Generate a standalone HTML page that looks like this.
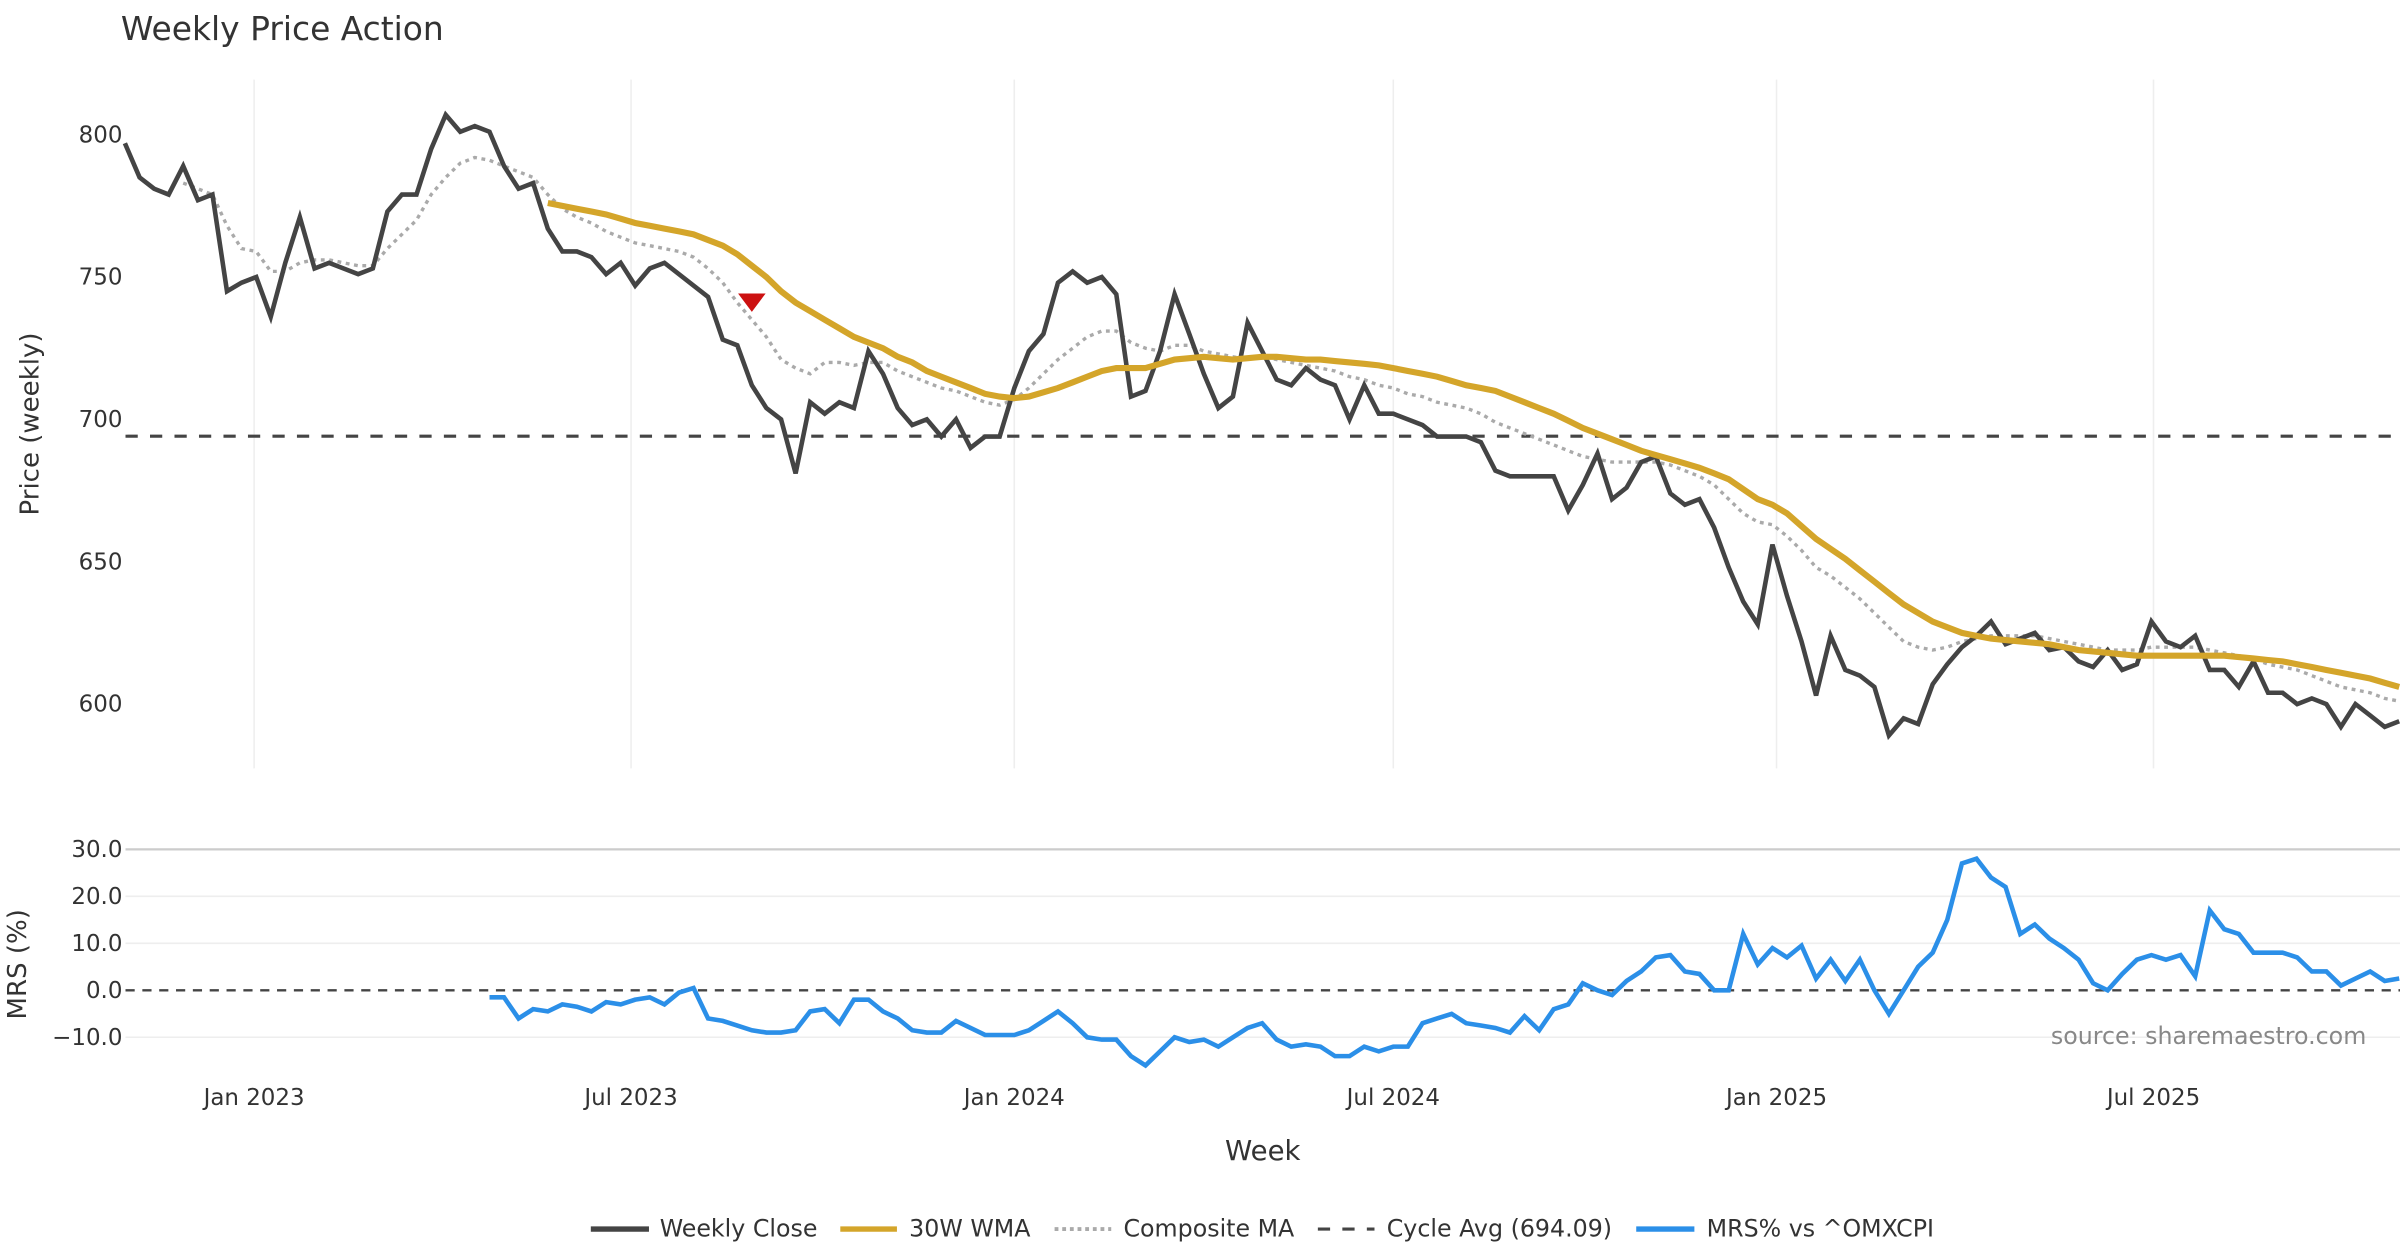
<!DOCTYPE html>
<html><head><meta charset="utf-8"><style>
html,body{margin:0;padding:0;background:#fff;}
svg{display:block;font-family:"DejaVu Sans","Liberation Sans",sans-serif;}
</style></head><body>
<svg id="chart" width="2400" height="1260" viewBox="0 0 1568 823.2" preserveAspectRatio="none" xmlns="http://www.w3.org/2000/svg">
<rect width="1568" height="823.2" fill="#fff"/>
<text x="79" y="26" font-size="21.5" fill="#333">Weekly Price Action</text>
<g id="grid"></g>
<g id="series"></g>
<text transform="translate(25,277) rotate(-90)" text-anchor="middle" font-size="17" fill="#333">Price (weekly)</text>
<text transform="translate(17,630) rotate(-90)" text-anchor="middle" font-size="17" fill="#333">MRS (%)</text>
<text x="825" y="758" text-anchor="middle" font-size="18" fill="#333">Week</text>
<text x="1546" y="682" text-anchor="end" font-size="15.5" fill="#888">source: sharemaestro.com</text>
<g font-size="15.5" fill="#333">
 <g><line x1="386" y1="803" x2="424" y2="803" stroke="#444" stroke-width="3.5"/><text x="431" y="808">Weekly Close</text></g>
 <g><line x1="549" y1="803" x2="586" y2="803" stroke="#D4A52A" stroke-width="3.5"/><text x="594" y="808">30W WMA</text></g>
 <g><line x1="689" y1="803" x2="726" y2="803" stroke="#aaa" stroke-width="2.5" stroke-dasharray="2.5,2.5"/><text x="734" y="808">Composite MA</text></g>
 <g><line x1="861" y1="803" x2="898" y2="803" stroke="#444" stroke-width="2" stroke-dasharray="8,8"/><text x="906" y="808">Cycle Avg (694.09)</text></g>
 <g><line x1="1069" y1="803" x2="1107" y2="803" stroke="#2B8FE8" stroke-width="3.5"/><text x="1115" y="808">MRS% vs ^OMXCPI</text></g>
</g>
</svg>
<script>
const closeVals=[797,785,781,779,789,777,779,745,748,750,736,755,771,753,755,753,751,753,773,779,779,795,807,801,803,801,789,781,783,767,759,759,757,751,755,747,753,755,751,747,743,728,726,712,704,700,681,706,702,706,704,724,716,704,698,700,694,700,690,694,694,711,724,730,748,752,748,750,744,708,710,724,744,730,716,704,708,734,724,714,712,718,714,712,700,712,702,702,700,698,694,694,694,692,682,680,680,680,680,668,677,688,672,676,685,687,674,670,672,662,648,636,628,656,638,622,603,624,612,610,606,589,595,593,607,614,620,624,629,621,623,625,619,620,615,613,619,612,614,629,622,620,624,612,612,606,615,604,604,600,602,600,592,600,596,592,594];
const wmaStart=29;
const wmaVals=[776,775,774,773,772,770.5,769,768,767,766,765,763,761,758,754,750,745,741,738,735,732,729,727,725,722,720,717,715,713,711,709,708,707.5,708,709.5,711,713,715,717,718,718,718,719.5,721,721.5,722,721.5,721,721.5,722,722,721.5,721,721,720.5,720,719.5,719,718,717,716,715,713.5,712,711,710,708,706,704,702,699.5,697,695,693,691,689,687.5,686,684.5,683,681,679,675.5,672,670,667,662.5,658,654.5,651,647,643,639,635,632,629,627,625,624,623,622.5,622,621.5,621,620,619,618.5,618,617.5,617,617,617,617,617,617,617,616.5,616,615.5,615,614,613,612,611,610,609,607.5,606];
const compStart=4;
const compVals=[783,781,779,768,760,759,752,752,755,756,756,755,754,754,760,765,770,779,785,790,792,791,789,787,785,779,774,771,769,766,764,762,761,760,759,757,753,748,741,735,729,721,718,716,720,720,719,720,720,717,715,713,711,710,708,706,705,707,711,716,721,725,729,731,731,727,725,724,726,726,724,723,722,721,722,721,720,719,718,717,715,714,712,711,709,708,706,705,704,702,699,697,695,693,691,689,687,686,685,685,685,685,684,682,680,677,672,667,664,663,659,654,648,645,641,637,632,627,622,620,619,620,622,623,624,624,624,624,623,622,621,620,619,619,619,620,620,620,620,619,618,617,616,614,613,612,610,608,606,605,604,602,601];
const mrsStart=25;
const mrsVals=[-1.5,-1.5,-6,-4,-4.5,-3,-3.5,-4.5,-2.5,-3,-2,-1.5,-3,-0.5,0.5,-6,-6.5,-7.5,-8.5,-9,-9,-8.5,-4.5,-4,-7,-2,-2,-4.5,-6,-8.5,-9,-9,-6.5,-8,-9.5,-9.5,-9.5,-8.5,-6.5,-4.5,-7,-10,-10.5,-10.5,-14,-16,-13,-10,-11,-10.5,-12,-10,-8,-7,-10.5,-12,-11.5,-12,-14,-14,-12,-13,-12,-12,-7,-6,-5,-7,-7.5,-8,-9,-5.5,-8.5,-4,-3,1.5,0,-1,2,4,7,7.5,4,3.5,0,0,12,5.5,9,7,9.5,2.5,6.5,2,6.5,0,-5,0,5,8,15,27,28,24,22,12,14,11,9,6.5,1.5,0,3.5,6.5,7.5,6.5,7.5,3,17,13,12,8,8,8,7,4,4,1,2.5,4,2,2.5];
const cycleAvg=694.09;
const signalIndex=43; const signalValue=741;
const priceTicks=[600,650,700,750,800];
const mrsTicks=[-10,0,10,20,30];
const mrsTickLabels=["−10.0","0.0","10.0","20.0","30.0"];
const dateTicks=["2023-01-01","2023-07-01","2024-01-01","2024-07-01","2025-01-01","2025-07-01"];
const dateTickLabels=["Jan 2023","Jul 2023","Jan 2024","Jul 2024","Jan 2025","Jul 2025"];
const startDate="2022-10-31";

const NS="http://www.w3.org/2000/svg";
const DAY=86400000, t0=Date.parse("2023-01-01");
function xDate(d){return 166+(Date.parse(d)-t0)/DAY*1.3607;}
const xs0=xDate(startDate);
function xi(i){return xs0+i*7*1.3607;}
function yP(v){return 88+(800-v)*1.86;}
function yM(v){return 647-v*3.07;}
const grid=document.getElementById('grid'), ser=document.getElementById('series');
function mk(tag,attrs,parent){const e=document.createElementNS(NS,tag);for(const k in attrs)e.setAttribute(k,attrs[k]);parent.appendChild(e);return e;}
dateTicks.forEach((d,k)=>{
  const x=xDate(d);
  const g=mk('line',{x1:x,x2:x,y1:52,y2:502,stroke:'#eeeeee','stroke-width':1},grid);
  
  
  const t=mk('text',{x:x,y:722,'text-anchor':'middle','font-size':15,fill:'#333'},grid);
  t.textContent=dateTickLabels[k];
  
  
});
priceTicks.forEach(v=>{
  const t=mk('text',{x:80,y:yP(v)+5,'text-anchor':'end','font-size':15,fill:'#333'},grid);
  t.textContent=String(v);
  
  
});
mrsTicks.forEach((v,k)=>{
  if(v!==0){
    const l=mk('line',{x1:82,x2:1568,y1:yM(v),y2:yM(v),stroke:v===30?'#cccccc':'#eeeeee','stroke-width':v===30?1.5:1},grid);
    
    
  }
  const t=mk('text',{x:80,y:yM(v)+5,'text-anchor':'end','font-size':15,fill:'#333'},grid);
  t.textContent=mrsTickLabels[k];
  
  
});
function path(vals,start,yf){return vals.map((v,i)=>(i?'L':'M')+xi(start+i).toFixed(1)+','+yf(v).toFixed(1)).join(' ');}
const cy=mk('line',{x1:82,x2:1568,y1:yP(cycleAvg),y2:yP(cycleAvg),stroke:'#444','stroke-width':2,'stroke-dasharray':'8,8'},ser);


const z=mk('line',{x1:82,x2:1568,y1:yM(0),y2:yM(0),stroke:'#444','stroke-width':1.5,'stroke-dasharray':'6,5'},ser);


const cp=mk('path',{d:path(compVals,compStart,yP),fill:'none',stroke:'#aaa','stroke-width':2.2,'stroke-dasharray':'2.5,3'},ser);


const cl=mk('path',{d:path(closeVals,0,yP),fill:'none',stroke:'#444','stroke-width':3,'stroke-linejoin':'miter'},ser);


const wm=mk('path',{d:path(wmaVals,wmaStart,yP),fill:'none',stroke:'#D4A52A','stroke-width':4},ser);


const mr=mk('path',{d:path(mrsVals,mrsStart,yM),fill:'none',stroke:'#2B8FE8','stroke-width':3},ser);


const sx=xi(signalIndex), sy=yP(signalValue);
const tri=mk('polygon',{points:`${sx-9},${sy-6} ${sx+9},${sy-6} ${sx},${sy+6}`,fill:'#CC1111'},ser);


</script>
</body></html>
